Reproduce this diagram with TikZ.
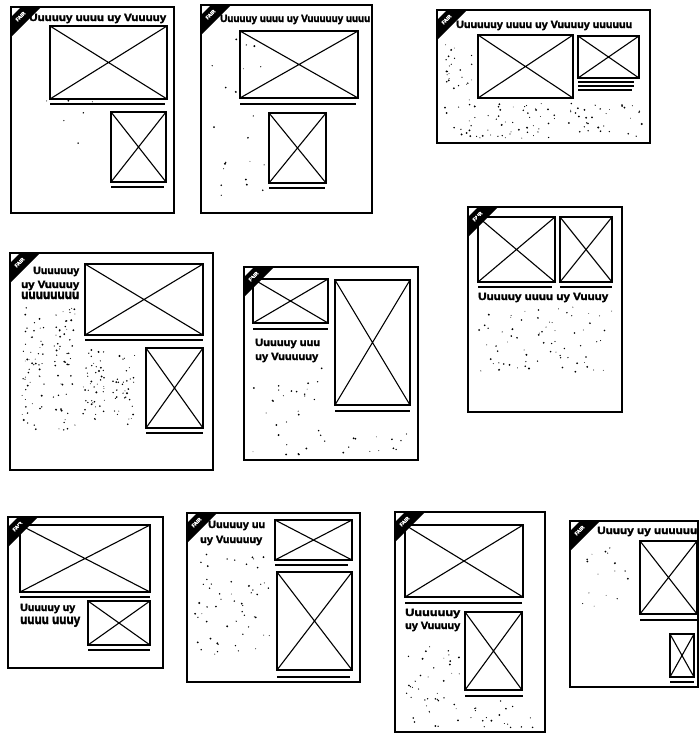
\documentclass[tikz,border=0pt]{standalone}
\usepackage{fontspec}
\setmainfont{Liberation Sans}[BoldFeatures={FakeBold=2.5}]
\usepackage{graphicx}
\tikzset{
  frame/.style={line width=1.8pt},
  imgbox/.style={line width=2.3pt},
  xline/.style={line width=1.1pt},
  uline/.style={line width=2.8pt},
  thinline/.style={line width=1.6pt},
  ribtext/.style={text=white, font=\bfseries\fontsize{5}{5}\selectfont, rotate=45, inner sep=0pt},
  headtext/.style={inner sep=0pt, font=\bfseries},
}
\newcommand{\pframe}[4]{\draw[frame] (#1,#2) rectangle (#3,#4);}
\newcommand{\pimg}[4]{\draw[imgbox] (#1,#2) rectangle (#3,#4); \draw[xline] (#1,#2)--(#3,#4) (#1,#4)--(#3,#2);}
\newcommand{\pul}[3]{\draw[uline] (#1,#3)--(#2,#3);}
\newcommand{\pribbon}[3]{\fill (#1,#2+10)--(#1+10,#2)--(#1+30,#2)--(#1,#2+30)--cycle;
  \node[ribtext] (#3) at (#1+9.5,#2+9.5) {FAIR};}
\newcommand{\phead}[5]{\node[headtext,anchor=base west] (#1) at (#2,#4) {\resizebox{\dimexpr #3pt-#2pt\relax}{7.2pt}{#5}};}
\newcommand{\speck}[5]{\foreach \i in {1,...,#5}{%
  \pgfmathsetmacro\rx{#1+rnd*(#3-#1)}\pgfmathsetmacro\ry{#2+rnd*(#4-#2)}\pgfmathsetmacro\rr{0.4+0.7*rnd}%
  \fill (\rx,\ry) circle (\rr);}}
\begin{document}
\begin{tikzpicture}[x=1pt,y=-1pt]
\pgfmathsetseed{7}
\useasboundingbox (0,0) rectangle (699,737);
% Panel 1
\pframe{11}{7}{174}{213}
\phead{h1}{29}{166}{21}{Uuuuuy uuuu uy Vuuuuy}
\pribbon{11}{7}{r1}
\pimg{50}{26}{167}{99}
\pul{50}{165}{104}
\pimg{111}{112}{166}{182}
\pul{111}{164}{187}
\speck{40}{95}{100}{145}{6}
% Panel 2
\pframe{201}{5}{372}{213}
\phead{h2}{220}{370}{22}{Uuuuuy uuuu uy Vuuuuuy uuuu}
\pribbon{201}{5}{r2}
\pimg{240}{31}{358}{98}
\pul{240}{356}{104}
\pimg{269}{113}{326}{183}
\pul{269}{325}{188}
\speck{212}{34}{265}{200}{22}
% Panel 3
\pframe{437}{10}{650}{143}
\phead{h3}{456}{632}{28}{Uuuuuuy uuuu uy Vuuuuy uuuuuu}
\pribbon{437}{10}{r3}
\pimg{478}{35}{573}{98}
\pimg{578}{36}{639}{78}
\draw[thinline] (578,82)--(634,82) (578,86)--(634,86) (578,90)--(632,90);
\speck{445}{42}{475}{100}{25}
\speck{445}{103}{642}{139}{90}
% Panel 4
\pframe{10}{253}{213}{470}
\phead{h4a}{33}{79}{274}{Uuuuuuy}
\phead{h4b}{21}{79}{288}{uy Vuuuuy}
\phead{h4c}{21}{79}{299}{uuuuuuuu}
\pribbon{10}{253}{r4}
\pimg{85}{264}{203}{335}
\pul{85}{203}{340}
\pimg{146}{348}{203}{428}
\pul{146}{203}{433}
\speck{22}{307}{45}{430}{55}
\speck{53}{307}{75}{430}{55}
\speck{83}{350}{105}{420}{45}
\speck{113}{355}{136}{425}{35}
% Panel 5
\pframe{244}{267}{418}{460}
\pribbon{244}{267}{r5}
\pimg{253}{279}{328}{323}
\pul{253}{328}{329}
\phead{h5a}{255}{320}{346}{Uuuuuy uuu}
\phead{h5b}{255}{318}{360}{uy Vuuuuuy}
\pimg{335}{280}{410}{405}
\pul{335}{410}{411}
\speck{253}{368}{330}{455}{30}
\speck{340}{420}{412}{455}{12}
% Panel 6
\pframe{468}{207}{622}{412}
\pribbon{468}{207}{r6}
\pimg{478}{217}{555}{282}
\pimg{560}{217}{612}{282}
\pul{478}{552}{287}
\pul{560}{612}{287}
\phead{h6}{478}{608}{300}{Uuuuuy uuuu uy Vuuuy}
\speck{478}{306}{612}{372}{70}
% Panel 7
\pframe{8}{517}{163}{668}
\pribbon{8}{517}{r7}
\pimg{20}{525}{150}{592}
\pul{20}{150}{597}
\phead{h7a}{20}{75}{611}{Uuuuuy uy}
\phead{h7b}{20}{80}{624}{uuuu uuuy}
\pimg{88}{601}{150}{645}
\pul{88}{150}{650}
% Panel 8
\pframe{187}{513}{360}{682}
\phead{h8a}{208}{265}{528}{Uuuuuy uu}
\phead{h8b}{200}{262}{543}{uy Vuuuuuy}
\pribbon{187}{513}{r8}
\pimg{275}{520}{352}{560}
\pul{275}{348}{565}
\pimg{277}{572}{352}{670}
\pul{277}{350}{677}
\speck{195}{552}{270}{655}{55}
% Panel 9
\pframe{395}{512}{545}{732}
\pribbon{395}{512}{r9}
\pimg{405}{525}{523}{597}
\pul{405}{522}{603}
\phead{h9a}{405}{460}{616}{Uuuuuuy}
\phead{h9b}{405}{460}{629}{uy Vuuuuy}
\pimg{465}{612}{522}{690}
\pul{465}{523}{696}
\speck{405}{637}{460}{728}{40}
\speck{465}{700}{535}{728}{18}
% Panel 10
\pframe{570}{521}{698}{687}
\phead{h10}{597}{697}{534}{Uuuuy uy uuuuuu}
\pribbon{570}{521}{r10}
\pimg{640}{541}{697}{614}
\pul{640}{697}{620}
\pimg{670}{634}{694}{677}
\pul{670}{694}{682}
\speck{580}{546}{628}{612}{16}
\end{tikzpicture}
\end{document}
